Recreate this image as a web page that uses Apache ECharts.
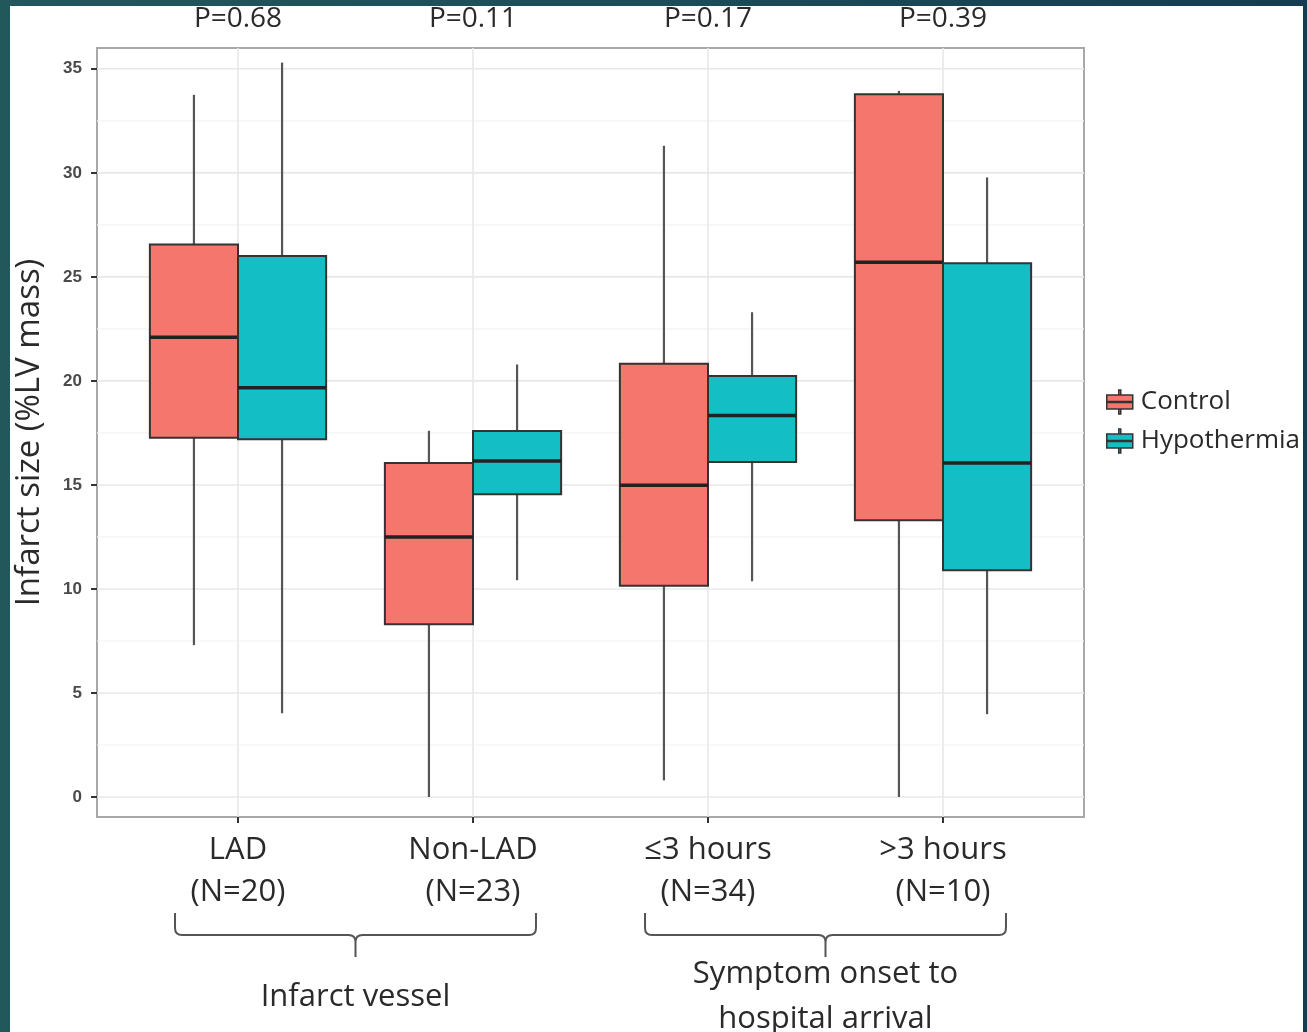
<!DOCTYPE html>
<html>
<head>
<meta charset="utf-8">
<script src="https://cdn.jsdelivr.net/npm/echarts@6/dist/echarts.min.js"></script>
<style>
  html, body { margin: 0; padding: 0; width: 1307px; height: 1032px; overflow: hidden;
    background: linear-gradient(90deg, #22575b 0%, #1c4d58 50%, #163c50 100%); }
  #chart { position: absolute; left: 10px; top: 6px; width: 1293px; height: 1026px; background: #ffffff; }
</style>
</head>
<body>
<div id="chart"></div>
<script>
// ---- data ----
const categories = ['LAD\n(N=20)', 'Non-LAD\n(N=23)', '≤3 hours\n(N=34)', '>3 hours\n(N=10)'];
const pValues = ['P=0.68', 'P=0.11', 'P=0.17', 'P=0.39'];
// [lower whisker, Q1, median, Q3, upper whisker]
const controlStats = [
  [7.3, 17.27, 22.1, 26.55, 33.75],
  [0.0, 8.31, 12.5, 16.05, 17.6],
  [0.8, 10.16, 14.99, 20.82, 31.3],
  [0.0, 13.3, 25.7, 33.78, 33.94]
];
const hypothermiaStats = [
  [4.03, 17.19, 19.67, 26.0, 35.3],
  [10.42, 14.55, 16.15, 17.59, 20.79],
  [10.37, 16.1, 18.34, 20.24, 23.3],
  [3.98, 10.9, 16.05, 25.65, 29.78]
];
const groupNames = ['Infarct vessel', 'Symptom onset to\nhospital arrival'];
const groupMembers = [[1, 2], [3, 4]];
const yTicks = [0, 5, 10, 15, 20, 25, 30, 35];
const yMinor = [2.5, 7.5, 12.5, 17.5, 22.5, 27.5, 32.5];
const xTicks = [1, 2, 3, 4];

const FONT = '"Open Sans", "Noto Sans", sans-serif';
const TEXT = '#2a2a2a';
const colors = { Control: '#f4766c', Hypothermia: '#14bec5' };
const DODGE = 0.1875, HALF = 0.1875;

function boxRenderer(offset, fill) {
  return function (params, api) {
    const x = api.value(0) + offset;
    const lo = api.value(1), q1 = api.value(2), med = api.value(3), q3 = api.value(4), hi = api.value(5);
    const cx = api.coord([x, 0])[0];
    const yHi = api.coord([x, hi])[1], yQ3 = api.coord([x, q3])[1], yMed = api.coord([x, med])[1];
    const yQ1 = api.coord([x, q1])[1], yLo = api.coord([x, lo])[1];
    const xl = api.coord([x - HALF, 0])[0], xr = api.coord([x + HALF, 0])[0];
    return {
      type: 'group',
      children: [
        { type: 'line', shape: { x1: cx, y1: yHi, x2: cx, y2: yQ3 }, style: { stroke: '#555555', lineWidth: 2.2 } },
        { type: 'line', shape: { x1: cx, y1: yQ1, x2: cx, y2: yLo }, style: { stroke: '#555555', lineWidth: 2.2 } },
        { type: 'rect', shape: { x: xl, y: yQ3, width: xr - xl, height: yQ1 - yQ3 },
          style: { fill: fill, stroke: '#333333', lineWidth: 2 } },
        { type: 'line', shape: { x1: xl, y1: yMed, x2: xr, y2: yMed }, style: { stroke: '#222222', lineWidth: 3.5 } }
      ]
    };
  };
}

function gridRenderer(params, api) {
  const cs = params.coordSys;
  const children = [];
  yMinor.forEach(v => {
    const y = api.coord([1, v])[1];
    children.push({ type: 'line', shape: { x1: cs.x, y1: y, x2: cs.x + cs.width, y2: y }, style: { stroke: '#f3f3f3', lineWidth: 1.2 } });
  });
  yTicks.forEach(v => {
    const y = api.coord([1, v])[1];
    children.push({ type: 'line', shape: { x1: cs.x, y1: y, x2: cs.x + cs.width, y2: y }, style: { stroke: '#e8e8e8', lineWidth: 1.6 } });
  });
  xTicks.forEach(v => {
    const x = api.coord([v, 0])[0];
    children.push({ type: 'line', shape: { x1: x, y1: cs.y, x2: x, y2: cs.y + cs.height }, style: { stroke: '#e8e8e8', lineWidth: 1.6 } });
  });
  return { type: 'group', children: children };
}

function braceRenderer(params, api) {
  const a = api.value(0), b = api.value(1), idx = api.value(2);
  const cs = params.coordSys;
  const base = cs.y + cs.height;
  const xl = api.coord([a - 0.268, 0])[0];
  const xr = api.coord([b + 0.268, 0])[0];
  const xc = (xl + xr) / 2;
  const yTop = base + 96, yH = base + 118, yB = base + 140;
  const r = 7;
  const d = `M${xl},${yTop} L${xl},${yH - r} Q${xl},${yH} ${xl + r},${yH} L${xc - r},${yH} Q${xc},${yH} ${xc},${yH + r} L${xc},${yB} ` +
            `M${xc},${yH + r} Q${xc},${yH} ${xc + r},${yH} L${xr - r},${yH} Q${xr},${yH} ${xr},${yH - r} L${xr},${yTop}`;
  return {
    type: 'group',
    children: [
      { type: 'path', shape: { pathData: d }, style: { fill: null, stroke: '#555555', lineWidth: 2 } },
      { type: 'text', x: xc, y: base + 180,
        style: { text: groupNames[idx], fill: TEXT, font: `31px ${FONT}`, align: 'center', verticalAlign: 'middle', lineHeight: 45 } }
    ]
  };
}

function pRenderer(params, api) {
  const i = api.value(0);
  const cs = params.coordSys;
  const x = api.coord([i, 0])[0];
  return { type: 'text', x: x, y: cs.y - 29,
    style: { text: pValues[i - 1], fill: TEXT, font: `28px ${FONT}`, align: 'center', verticalAlign: 'middle' } };
}

const chart = echarts.init(document.getElementById('chart'), null, { renderer: 'canvas' });
chart.setOption({
  animation: false,
  backgroundColor: '#ffffff',
  grid: { left: 87, top: 42, width: 987, height: 769, show: true, borderColor: '#a8a8a8', borderWidth: 2,
          backgroundColor: 'transparent', containLabel: false, outerBoundsMode: 'none' },
  xAxis: {
    type: 'value', min: 0.4, max: 4.6,
    axisLine: { show: false, onZero: false },
    splitLine: { show: false },
    axisTick: { show: true, customValues: xTicks, length: 6, inside: false, lineStyle: { color: '#333333', width: 2 } },
    axisLabel: {
      customValues: xTicks, margin: 12,
      formatter: v => categories[Math.round(v) - 1] || '',
      fontSize: 31, lineHeight: 42, color: TEXT, fontFamily: FONT
    }
  },
  yAxis: {
    type: 'value', min: -0.96, max: 36,
    name: 'Infarct size (%LV mass)', nameLocation: 'middle', nameGap: 51,
    nameTextStyle: { fontSize: 33, color: TEXT, fontFamily: FONT },
    axisLine: { show: false, onZero: false },
    splitLine: { show: false },
    axisTick: { show: true, customValues: yTicks, length: 6, lineStyle: { color: '#333333', width: 2 } },
    axisLabel: { customValues: yTicks, margin: 15, fontSize: 17, fontWeight: 'bold', color: '#4a4a4a', fontFamily: '"Liberation Sans", Arial, sans-serif' }
  },
  legend: {
    data: ['Control', 'Hypothermia'],
    orient: 'vertical', left: 1091, top: 378,
    itemWidth: 28, itemHeight: 24, itemGap: 13,
    icon: 'path://M13,0 h2 v5 h-2 z M1,5 h26 v6.5 H1 z M1,12.5 h26 v6.5 H1 z M13,19 h2 v5 h-2 z',
    itemStyle: { borderColor: '#333333', borderWidth: 1.5 },
    textStyle: { fontSize: 26, color: TEXT, fontFamily: FONT, padding: [0, 0, 0, 2] }
  },
  series: [
    {
      name: 'grid', type: 'custom', z: 1, silent: true, clip: false,
      encode: { x: 0 },
      data: [[1]],
      renderItem: gridRenderer
    },
    {
      name: 'Control', type: 'custom', z: 3, clip: false,
      itemStyle: { color: colors.Control },
      encode: { x: 0, y: [1, 2, 3, 4, 5] },
      data: controlStats.map((s, i) => [i + 1].concat(s)),
      renderItem: boxRenderer(-DODGE, colors.Control)
    },
    {
      name: 'Hypothermia', type: 'custom', z: 3, clip: false,
      itemStyle: { color: colors.Hypothermia },
      encode: { x: 0, y: [1, 2, 3, 4, 5] },
      data: hypothermiaStats.map((s, i) => [i + 1].concat(s)),
      renderItem: boxRenderer(DODGE, colors.Hypothermia)
    },
    {
      name: 'braces', type: 'custom', z: 3, clip: false, silent: true,
      encode: { x: [0, 1] },
      data: groupMembers.map((m, i) => [m[0], m[1], i]),
      renderItem: braceRenderer
    },
    {
      name: 'pvalues', type: 'custom', z: 3, clip: false, silent: true,
      encode: { x: 0 },
      data: pValues.map((p, i) => [i + 1]),
      renderItem: pRenderer
    }
  ]
});
</script>
</body>
</html>
